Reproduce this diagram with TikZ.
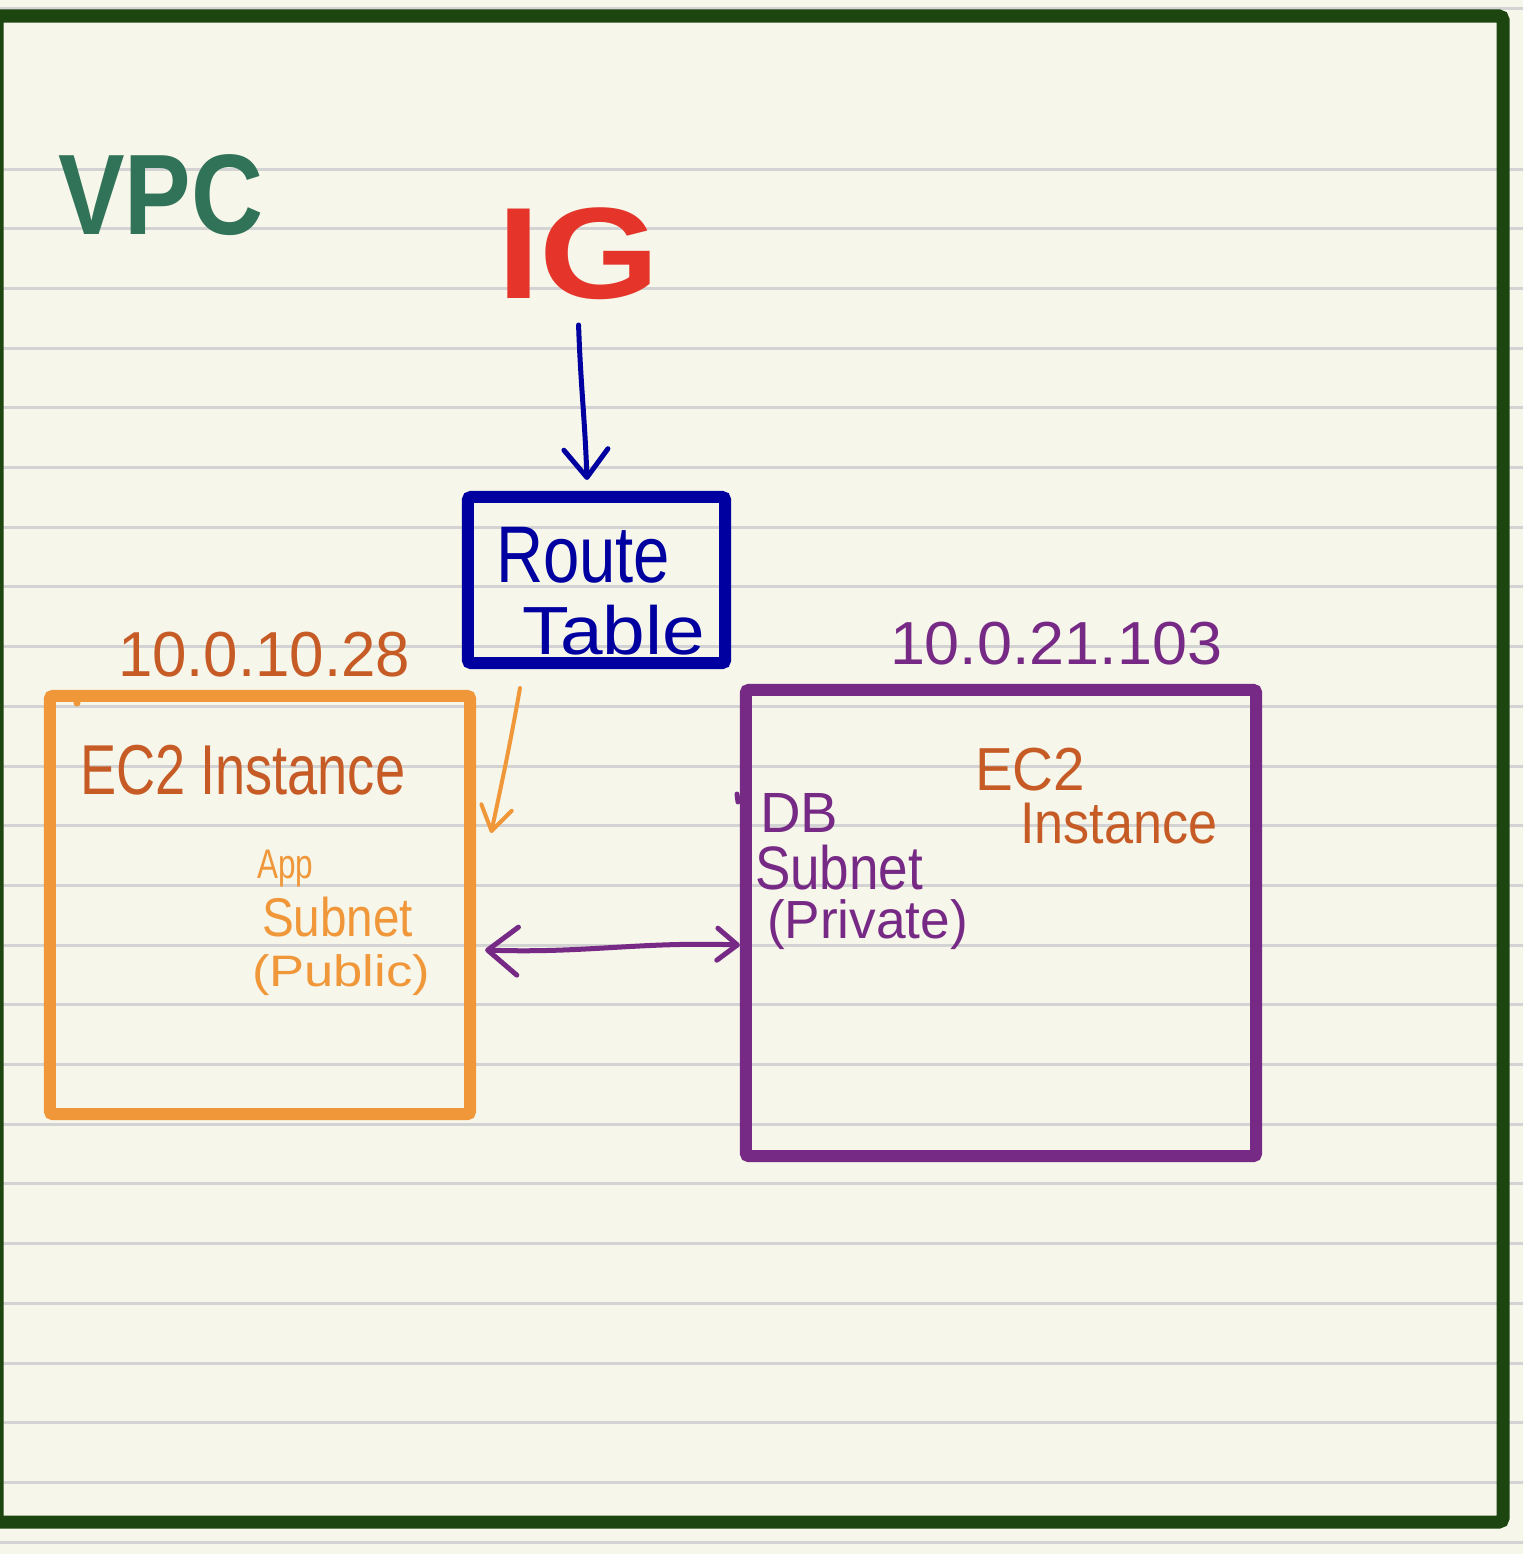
\documentclass[tikz,border=0pt]{standalone}
\usepackage{fontspec}
\setmainfont{Liberation Sans}
\usetikzlibrary{arrows.meta,calc}
\definecolor{paper}{HTML}{F6F6EA}
\definecolor{rule}{HTML}{D3D3D3}
\definecolor{vpcframe}{HTML}{1D4510}
\definecolor{vpctext}{HTML}{317358}
\definecolor{igred}{HTML}{E5352A}
\definecolor{rtblue}{HTML}{0000A0}
\definecolor{apporange}{HTML}{F0973A}
\definecolor{dbpurple}{HTML}{772A85}
\definecolor{ec2brown}{HTML}{C65B26}
\newcommand\fitto[3]{\resizebox*{#1}{#2}{#3}}
\tikzset{
  ruled/.style={draw=rule, line width=0.03cm},
  subnetbox/.style={draw, line width=0.12cm, rounded corners=0.03cm, inner sep=0pt},
  hand/.style={anchor=south west, inner sep=0pt, outer sep=0pt},
  penline/.style={line cap=round, line join=round},
}
\begin{document}
\begin{tikzpicture}[x=0.01cm, y=-0.01cm]
\useasboundingbox (0,0) rectangle (1523,1554);
\fill[paper] (0,0) rectangle (1523,1554);
% notebook rules
\draw[ruled] (0,8) -- (1523,8);
\foreach \k in {0,...,23} {\draw[ruled] (0,{169+59.7*\k}) -- (1523,{169+59.7*\k});}
% VPC frame
\draw[vpcframe, line width=0.13cm, rounded corners=0.04cm] (-3,16) rectangle (1503,1522);
\node[hand, text=vpctext] (vpc) at (58,236) {\fitto{2.05cm}{0.81cm}{\bfseries VPC}};
% Internet gateway
\node[hand, text=igred] (ig) at (497,300) {\fitto{1.63cm}{0.92cm}{\bfseries IG}};
% Route table
\node[subnetbox, draw=rtblue, minimum width=2.57cm, minimum height=1.66cm] (rt) at (596.5,580) {};
\node[hand, text=rtblue] (rtl1) at (496,583) {\fitto{1.74cm}{0.56cm}{Route}};
\node[hand, text=rtblue] (rtl2) at (522,655) {\fitto{1.83cm}{0.50cm}{Table}};
% App subnet
\node[subnetbox, draw=apporange, minimum width=4.20cm, minimum height=4.18cm] (app) at (260,905) {};
\node[hand, text=ec2brown] (appip) at (118,677) {\fitto{2.92cm}{0.45cm}{10.0.10.28}};
\node[hand, text=ec2brown] (appec2) at (80,795) {\fitto{3.25cm}{0.50cm}{EC2 Instance}};
\node[hand, text=apporange] (appl1) at (257,887) {\fitto{0.56cm}{0.37cm}{App}};
\node[hand, text=apporange] (appl2) at (262,937) {\fitto{1.51cm}{0.40cm}{Subnet}};
\node[hand, text=apporange] (appl3) at (252,996) {\fitto{1.78cm}{0.41cm}{(Public)}};
\fill[apporange] (77,703) circle (0.035cm);
% DB subnet
\node[subnetbox, draw=dbpurple, minimum width=5.10cm, minimum height=4.66cm] (db) at (1001,923) {};
\node[hand, text=dbpurple] (dbip) at (890,665) {\fitto{3.32cm}{0.43cm}{10.0.21.103}};
\node[hand, text=ec2brown] (dbec2a) at (975,791) {\fitto{1.10cm}{0.43cm}{EC2}};
\node[hand, text=ec2brown] (dbec2b) at (1020,844) {\fitto{1.97cm}{0.41cm}{Instance}};
\node[hand, text=dbpurple] (dbl1) at (760,832) {\fitto{0.78cm}{0.39cm}{DB}};
\node[hand, text=dbpurple] (dbl2) at (755,890) {\fitto{1.68cm}{0.45cm}{Subnet}};
\node[hand, text=dbpurple] (dbl3) at (767,950) {\fitto{2.01cm}{0.50cm}{(Private)}};
\draw[dbpurple, line width=0.05cm, line cap=round] (737,794) -- (738,802);
% connectors
\draw[rtblue, line width=0.05cm, penline, -{Straight Barb[length=0.28cm, width=0.44cm, round]}]
  ($(ig.south)+(0,25)$) to[out=-88, in=92] ($(rt.north)+(-9.5,-11)$);
\draw[apporange, line width=0.04cm, penline, -{Straight Barb[length=0.24cm, width=0.31cm, round]}]
  ($(rt.south)+(-76.5,19)$) to[out=-100, in=78] ($(app.east)+(15,-72)$);
\draw[dbpurple, line width=0.05cm, penline, {Straight Barb[length=0.30cm, width=0.48cm, round]}-{Straight Barb[length=0.20cm, width=0.32cm, round]}]
  ($(app.east)+(9,45)$) to[out=-2, in=178] ($(db.west)+(0,22)$);
\end{tikzpicture}
\end{document}
